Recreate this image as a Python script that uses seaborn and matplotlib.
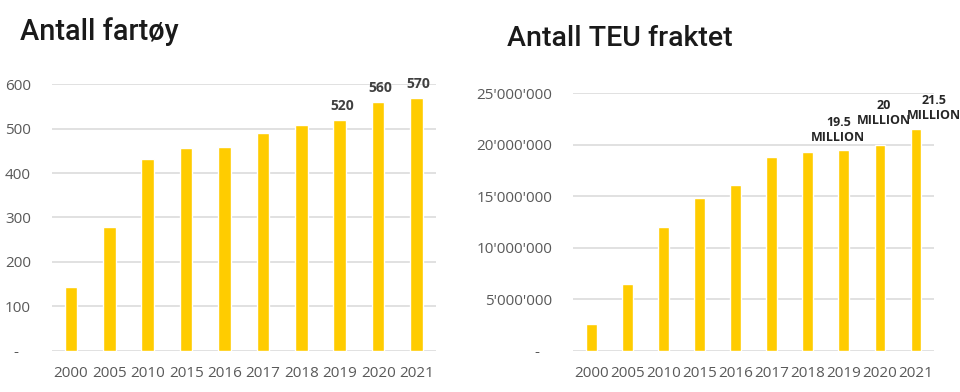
import numpy as np
import pandas as pd
import seaborn as sns
import matplotlib.pyplot as plt

# data
years = ['2000', '2005', '2010', '2015', '2016', '2017', '2018', '2019', '2020', '2021']
vessels = [143, 278, 432, 456, 459, 490, 509, 520, 560, 570]
teu = [2600000, 6450000, 12050000, 14850000, 16100000, 18850000, 19250000, 19500000, 20000000, 21500000]

vessel_labels = {'2019': '520', '2020': '560', '2021': '570'}
teu_labels = {'2019': '19.5\nMILLION', '2020': '20\nMILLION', '2021': '21.5\nMILLION'}

bar_color = '#FFCC00'
grid_color = '#D9D9D9'
tick_color = '#595959'

sns.set_theme(style='white')
plt.rcParams['font.family'] = ['Open Sans', 'DejaVu Sans']

df1 = pd.DataFrame({'year': years, 'value': vessels})
df2 = pd.DataFrame({'year': years, 'value': teu})

fig = plt.figure(figsize=(9.6, 3.92), dpi=100)
ax1 = fig.add_axes([0.0539, 0.1054, 0.4, 0.6796])
ax2 = fig.add_axes([0.597, 0.1054, 0.376, 0.6566])


def style_axis(ax, ticks, ticklabels, top):
    ax.set_ylim(0, top)
    ax.set_xlim(-0.5, len(years) - 0.5)
    ax.set_yticks(ticks)
    ax.set_yticklabels(ticklabels)
    ax.set_axisbelow(True)
    ax.yaxis.grid(True, color=grid_color, linewidth=1.1)
    ax.xaxis.grid(False)
    for s in ax.spines.values():
        s.set_visible(False)
    ax.tick_params(axis='y', length=0, pad=15, labelsize=11, colors=tick_color)
    ax.tick_params(axis='x', length=0, pad=11, labelsize=11, colors=tick_color)
    ax.set_xlabel('')
    ax.set_ylabel('')


# left chart: number of vessels
sns.barplot(data=df1, x='year', y='value', order=years, color=bar_color,
            width=0.33, saturation=1, ax=ax1)
style_axis(ax1, [0, 100, 200, 300, 400, 500, 600],
           ['-   ', '100', '200', '300', '400', '500', '600'], 600)
for i, y in enumerate(years):
    if y in vessel_labels:
        ax1.annotate(vessel_labels[y], (i, vessels[i]), xytext=(1.5, 5),
                     textcoords='offset points', ha='center', va='bottom',
                     fontsize=10, fontweight='bold', color='#404040',
                     annotation_clip=False)

# right chart: TEU shipped
sns.barplot(data=df2, x='year', y='value', order=years, color=bar_color,
            width=0.3, saturation=1, ax=ax2)
teu_ticks = [0, 5000000, 10000000, 15000000, 20000000, 25000000]
teu_ticklabels = ['-   '] + ["{:,}".format(t).replace(',', "'") for t in teu_ticks[1:]]
style_axis(ax2, teu_ticks, teu_ticklabels, 25000000)
teu_offsets = {'2019': (-4, 4), '2020': (3, 13), '2021': (13, 5)}
for i, y in enumerate(years):
    if y in teu_labels:
        ax2.annotate(teu_labels[y], (i, teu[i]), xytext=teu_offsets[y],
                     textcoords='offset points', ha='center', va='bottom',
                     fontsize=9, fontweight='bold', color='#262626',
                     linespacing=1.2, annotation_clip=False)

fig.text(0.021, 0.897, 'Antall fartøy', fontsize=20.8, color='#1A1A1A',
         family=['Roboto', 'DejaVu Sans'], fontweight='medium', va='baseline')
fig.text(0.528, 0.882, 'Antall TEU fraktet', fontsize=20.5, color='#1A1A1A',
         family=['Roboto', 'DejaVu Sans'], fontweight='medium', va='baseline')

fig.savefig('out.png', dpi=100)
